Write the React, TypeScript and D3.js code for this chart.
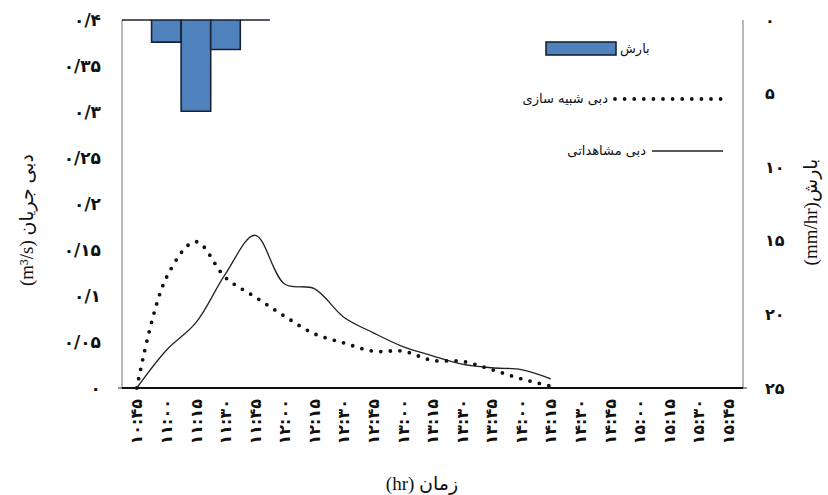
import React from 'react';
import * as d3 from 'd3';

const times = ['۱۰:۴۵','۱۱:۰۰','۱۱:۱۵','۱۱:۳۰','۱۱:۴۵','۱۲:۰۰','۱۲:۱۵','۱۲:۳۰','۱۲:۴۵','۱۳:۰۰','۱۳:۱۵','۱۳:۳۰','۱۳:۴۵','۱۴:۰۰','۱۴:۱۵','۱۴:۳۰','۱۴:۴۵','۱۵:۰۰','۱۵:۱۵','۱۵:۳۰','۱۵:۴۵'];
const rainfall = [0, 1.5, 6.2, 2.0, 0];
const observed = [0, 0.041, 0.071, 0.124, 0.166, 0.113, 0.108, 0.077, 0.06, 0.045, 0.035, 0.026, 0.022, 0.02, 0.01];
const simulated = [0, 0.12, 0.159, 0.12, 0.099, 0.078, 0.059, 0.049, 0.04, 0.04, 0.03, 0.029, 0.02, 0.01, 0.002];
const leftTicks = [0, 0.05, 0.1, 0.15, 0.2, 0.25, 0.3, 0.35, 0.4];
const leftTickLabels = ['۰','۰/۰۵','۰/۱','۰/۱۵','۰/۲','۰/۲۵','۰/۳','۰/۳۵','۰/۴'];
const rightTicks = [0, 5, 10, 15, 20, 25];
const rightTickLabels = ['۰','۵','۱۰','۱۵','۲۰','۲۵'];
const legendLabels = ['بارش', 'دبی شبیه سازی', 'دبی مشاهداتی'];

const W = 828, H = 495;
const L = 122, R = 743, T = 20, B = 388;
const FONT = "'Liberation Serif', 'DejaVu Sans', serif";
const PFONT = "'DejaVu Sans', sans-serif";

export default function App() {
  const x = d3.scaleBand<string>().domain(times).range([L, R]).padding(0);
  const bw = x.bandwidth();
  const cx = (i: number) => (x(times[i]) as number) + bw / 2;
  const yQ = d3.scaleLinear().domain([0, 0.4]).range([B, T]);
  const yR = d3.scaleLinear().domain([0, 25]).range([T, B]);

  const line = d3.line<number>()
    .x((d, i) => cx(i))
    .y(d => yQ(d))
    .curve(d3.curveCatmullRom.alpha(0.5));

  return (
    <svg width={W} height={H} style={{ position: 'absolute', left: 0, top: 0, background: '#fff' }}>
      <rect x={0} y={0} width={W} height={H} fill="#fff" />
      {/* axes */}
      <line x1={L} x2={L} y1={T} y2={B} stroke="#8a8a8a" strokeWidth={1.2} />
      <line x1={R} x2={R} y1={T} y2={B} stroke="#8a8a8a" strokeWidth={1.2} />
      <line x1={L - 4} x2={L} y1={B} y2={B} stroke="#333" strokeWidth={1} />
      <line x1={R} x2={R + 4} y1={B} y2={B} stroke="#333" strokeWidth={1} />
      {/* rain bars */}
      {rainfall.map((v, i) => {
        const x0 = x(times[i]) as number;
        const x1 = x0 + bw;
        const y0 = yR(0);
        const y1 = yR(v);
        return (
          <path key={'b' + i} d={`M${x0},${y0}V${y1}H${x1}V${y0}Z`} fill="#4f81bd" stroke="#1a2233" strokeWidth={1.6} />
        );
      })}
      {/* lines */}
      <path d={line(observed) as string} fill="none" stroke="#222" strokeWidth={1.3} />
      <path d={line(simulated) as string} fill="none" stroke="#111" strokeWidth={3.8} strokeDasharray="0 9.6" strokeLinecap="round" />
      {/* bottom axis */}
      <line x1={L} x2={R} y1={B} y2={B} stroke="#111" strokeWidth={2} />
      {/* left ticks */}
      {leftTicks.map((v, i) => (
        <text key={'l' + i} x={101} y={yQ(v)} dy="0.35em" textAnchor="end" fontFamily={PFONT} fontWeight="bold" fontSize={17} fill="#111">{leftTickLabels[i]}</text>
      ))}
      {/* right ticks */}
      {rightTicks.map((v, i) => (
        <text key={'r' + i} x={765} y={yR(v)} dy="0.35em" textAnchor="start" fontFamily={PFONT} fontWeight="bold" fontSize={16} fill="#111">{rightTickLabels[i]}</text>
      ))}
      {/* x ticks */}
      {times.map((t, i) => (
        <text key={'x' + i} transform={`translate(${cx(i)},${399}) rotate(-90)`} dy="0.35em" textAnchor="end" fontFamily={PFONT} fontWeight="bold" fontSize={16} fill="#111">{t}</text>
      ))}
      {/* axis titles */}
      <text transform={`translate(${33},${220}) rotate(-90)`} textAnchor="middle" direction="rtl" fontFamily={FONT} fontSize={19} fill="#111">دبی جریان (m³/s)</text>
      <text transform={`translate(${817},${212}) rotate(-90)`} textAnchor="middle" direction="rtl" fontFamily={FONT} fontSize={19} fill="#111">بارش(mm/hr)</text>
      <text x={422} y={490} textAnchor="middle" direction="rtl" fontFamily={FONT} fontSize={19} fill="#111">زمان (hr)</text>
      {/* legend */}
      <rect x={546} y={42} width={70} height={13} fill="#4f81bd" stroke="#1a2233" strokeWidth={1.6} />
      <text x={620} y={53} textAnchor="start" fontFamily={PFONT} fontSize={13} fill="#111">{legendLabels[0]}</text>
      <text x={608} y={103} textAnchor="end" fontFamily={PFONT} fontSize={13} fill="#111">{legendLabels[1]}</text>
      <line x1={615} x2={724} y1={99} y2={99} stroke="#111" strokeWidth={3.8} strokeDasharray="0 9.6" strokeLinecap="round" />
      <text x={646} y={155} textAnchor="end" fontFamily={PFONT} fontSize={13} fill="#111">{legendLabels[2]}</text>
      <line x1={652} x2={723} y1={151} y2={151} stroke="#222" strokeWidth={1.3} />
    </svg>
  );
}
